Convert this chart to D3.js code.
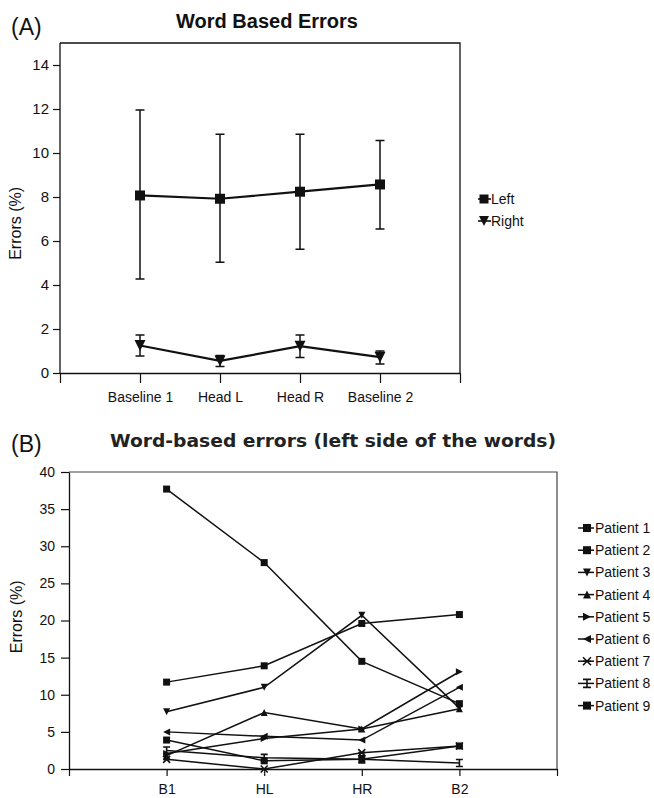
<!DOCTYPE html>
<html><head><meta charset="utf-8">
<script src="https://cdn.jsdelivr.net/npm/d3@7"></script>
<style>
body{margin:0;background:#fff;}
svg{display:block;font-family:"Liberation Sans",Arial,sans-serif;}
</style></head>
<body>
<svg id="c" width="654" height="798"></svg>
<script>
// ---- Panel A data ----
const aCats = ["Baseline 1", "Head L", "Head R", "Baseline 2"];
const aSeries = ["Left", "Right"];
const leftMean  = [8.07, 7.92, 8.24, 8.57];
const leftUpper = [11.95, 10.85, 10.85, 10.57];
const leftLower = [4.27, 5.03, 5.63, 6.55];
const rightMean  = [1.25, 0.55, 1.22, 0.72];
const rightUpper = [1.73, 0.80, 1.73, 1.00];
const rightLower = [0.77, 0.29, 0.71, 0.41];
const aYTicks = [0, 2, 4, 6, 8, 10, 12, 14];

// ---- Panel B data ----
const bCats = ["B1", "HL", "HR", "B2"];
const patientNames = ["Patient 1","Patient 2","Patient 3","Patient 4","Patient 5","Patient 6","Patient 7","Patient 8","Patient 9"];
const patient1 = [37.7, 27.8, 14.5, 8.8];
const patient2 = [11.7, 13.9, 19.6, 20.8];
const patient3 = [7.7, 11.0, 20.7, 8.2];
const patient4 = [1.8, 7.6, 5.4, 8.1];
const patient5 = [2.1, 4.1, 5.4, 13.1];
const patient6 = [5.0, 4.4, 3.9, 11.0];
const patient7 = [1.3, 0.0, 2.2, 3.1];
const patient8 = [2.5, 1.5, 1.3, 0.8];
const patient9 = [3.9, 1.1, 1.3, 3.1];
const bYTicks = [0, 5, 10, 15, 20, 25, 30, 35, 40];

const svg = d3.select("#c");
const ink = "#111";

function marker(g, type, cx, cy, s) {
  const h = s / 2;
  if (type === "square") {
    g.append("rect").attr("x", cx - h).attr("y", cy - h).attr("width", s).attr("height", s).attr("fill", ink);
  } else if (type === "down" || type === "up" || type === "right" || type === "left") {
    let pts;
    if (type === "down") pts = [[cx - h, cy - h], [cx + h, cy - h], [cx, cy + h]];
    if (type === "up") pts = [[cx - h, cy + h], [cx + h, cy + h], [cx, cy - h]];
    if (type === "right") pts = [[cx - h, cy - h], [cx - h, cy + h], [cx + h, cy]];
    if (type === "left") pts = [[cx + h, cy - h], [cx + h, cy + h], [cx - h, cy]];
    g.append("polygon").attr("points", pts.map(p => p.join(",")).join(" ")).attr("fill", ink);
  } else if (type === "bowtie") {
    g.append("path").attr("d", `M${cx-h},${cy-h}L${cx+h},${cy+h}M${cx-h},${cy+h}L${cx+h},${cy-h}M${cx-h},${cy}L${cx+h},${cy}`)
      .attr("stroke", ink).attr("stroke-width", 1.6).attr("fill", "none");
  } else if (type === "ibeam") {
    g.append("path").attr("d", `M${cx-h},${cy-h}L${cx+h},${cy-h}M${cx-h},${cy+h}L${cx+h},${cy+h}M${cx},${cy-h}L${cx},${cy+h}`)
      .attr("stroke", ink).attr("stroke-width", 1.6).attr("fill", "none");
  }
}

// ================= PANEL A =================
{
  const x = d3.scaleLinear().domain([0, 5]).range([60, 460]);
  const y = d3.scaleLinear().domain([0, 15]).range([373, 43]);
  const g = svg.append("g");

  g.append("path").attr("d", `M${x(0)},${y(15)}H${x(5)}V${y(0)}`).attr("fill", "none").attr("stroke", ink).attr("stroke-width", 1.3);

  const ya = g.append("g").attr("transform", `translate(${x(0)},0)`)
    .call(d3.axisLeft(y).tickValues(aYTicks).tickSize(7).tickPadding(4).tickSizeOuter(0));
  ya.select(".domain").attr("d", `M0,${y(15)}V${y(0)}`).attr("stroke", ink).attr("stroke-width", 1.3);
  ya.selectAll("line").attr("stroke", ink).attr("stroke-width", 1.2);
  ya.selectAll("text").attr("font-size", 15).attr("fill", ink);

  const xa = g.append("g").attr("transform", `translate(0,${y(0)})`)
    .call(d3.axisBottom(x).tickValues([0, 1, 2, 3, 4, 5]).tickSize(10).tickPadding(9).tickSizeOuter(0)
      .tickFormat(d => (d >= 1 && d <= 4) ? aCats[d - 1] : ""));
  xa.select(".domain").attr("stroke", ink).attr("stroke-width", 1.3);
  xa.selectAll("line").attr("stroke", ink).attr("stroke-width", 1.2);
  xa.selectAll("text").attr("font-size", 14).attr("fill", ink);

  g.append("text").attr("transform", `translate(21,${y(6.8)}) rotate(-90)`).attr("text-anchor", "middle")
    .attr("font-size", 16).attr("fill", ink).text("Errors (%)");

  g.append("text").attr("x", 267).attr("y", 28).attr("text-anchor", "middle").attr("font-size", 20)
    .attr("font-weight", "bold").attr("fill", ink).text("Word Based Errors");
  g.append("text").attr("x", 11).attr("y", 35).attr("font-size", 23).attr("fill", ink).text("(A)");

  const series = [
    {name: aSeries[0], mean: leftMean, up: leftUpper, lo: leftLower, m: "square", s: 10},
    {name: aSeries[1], mean: rightMean, up: rightUpper, lo: rightLower, m: "down", s: 11}
  ];
  const line = d3.line().x((d, i) => x(i + 1)).y(d => y(d));
  series.forEach(sr => {
    sr.mean.forEach((v, i) => {
      const cx = x(i + 1);
      g.append("path").attr("d", `M${cx},${y(sr.lo[i])}V${y(sr.up[i])}M${cx-4.5},${y(sr.up[i])}H${cx+4.5}M${cx-4.5},${y(sr.lo[i])}H${cx+4.5}`)
        .attr("stroke", ink).attr("stroke-width", 1.5).attr("fill", "none");
    });
    g.append("path").attr("d", line(sr.mean)).attr("fill", "none").attr("stroke", ink).attr("stroke-width", 2.2);
    sr.mean.forEach((v, i) => marker(g, sr.m, x(i + 1), y(v), sr.s));
  });

  series.forEach((sr, i) => {
    const ly = 199 + i * 22;
    g.append("line").attr("x1", 478).attr("x2", 491).attr("y1", ly).attr("y2", ly).attr("stroke", ink).attr("stroke-width", 1.6);
    marker(g, sr.m, 484, ly, sr.m === "square" ? 9 : 10);
    g.append("text").attr("x", 491).attr("y", ly + 5).attr("font-size", 14).attr("fill", ink).text(sr.name);
  });
}

// ================= PANEL B =================
{
  const x = d3.scaleLinear().domain([0, 5]).range([69, 557]);
  const y = d3.scaleLinear().domain([0, 40]).range([769, 472]);
  const g = svg.append("g");

  g.append("path").attr("d", `M${x(0)},${y(40)}H${x(5)}V${y(0)}`).attr("fill", "none").attr("stroke", "#444").attr("stroke-width", 1.2);

  const ya = g.append("g").attr("transform", `translate(${x(0)},0)`)
    .call(d3.axisLeft(y).tickValues(bYTicks).tickSize(8).tickPadding(6).tickSizeOuter(0));
  ya.select(".domain").attr("stroke", ink).attr("stroke-width", 1.3);
  ya.selectAll("line").attr("stroke", ink).attr("stroke-width", 1.2);
  ya.selectAll("text").attr("font-size", 14).attr("fill", ink);

  const xa = g.append("g").attr("transform", `translate(0,${y(0)})`)
    .call(d3.axisBottom(x).tickValues([0, 1, 2, 3, 4, 5]).tickSize(7).tickPadding(8).tickSizeOuter(0)
      .tickFormat(d => (d >= 1 && d <= 4) ? bCats[d - 1] : ""));
  xa.select(".domain").attr("stroke", ink).attr("stroke-width", 1.3);
  xa.selectAll("line").attr("stroke", ink).attr("stroke-width", 1.2);
  xa.selectAll("text").attr("font-size", 14).attr("fill", ink);

  g.append("text").attr("transform", `translate(22,${y(20.5)}) rotate(-90)`).attr("text-anchor", "middle")
    .attr("font-size", 16).attr("fill", ink).text("Errors (%)");

  g.append("text").attr("x", 333).attr("y", 447).attr("text-anchor", "middle").attr("font-size", 18)
    .attr("font-family", "DejaVu Sans, Verdana").attr("font-weight", "bold").attr("fill", "#222")
    .attr("textLength", 446).attr("lengthAdjust", "spacingAndGlyphs")
    .text("Word-based errors (left side of the words)");
  g.append("text").attr("x", 11).attr("y", 452).attr("font-size", 23).attr("fill", ink).text("(B)");

  const data = [patient1, patient2, patient3, patient4, patient5, patient6, patient7, patient8, patient9];
  const mk = ["square", "square", "down", "up", "right", "left", "bowtie", "ibeam", "square"];
  const line = d3.line().x((d, i) => x(i + 1)).y(d => y(d));
  data.forEach(vals => {
    g.append("path").attr("d", line(vals)).attr("fill", "none").attr("stroke", ink).attr("stroke-width", 1.5);
  });
  data.forEach((vals, k) => {
    vals.forEach((v, i) => marker(g, mk[k], x(i + 1), y(v), 7));
  });

  patientNames.forEach((nm, k) => {
    const ly = 528 + k * 22.2;
    g.append("line").attr("x1", 578).attr("x2", 594).attr("y1", ly).attr("y2", ly).attr("stroke", ink).attr("stroke-width", 1.5);
    marker(g, mk[k], 587, ly, 8);
    g.append("text").attr("x", 595).attr("y", ly + 5).attr("font-size", 14).attr("fill", ink).text(nm);
  });
}
</script>
</body></html>
